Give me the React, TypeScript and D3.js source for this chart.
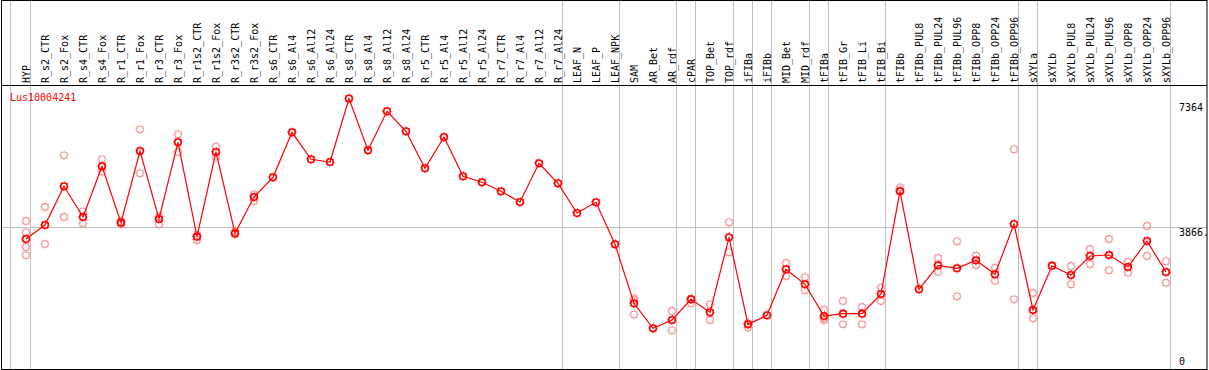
import { useEffect, useRef } from 'react'
import * as d3 from 'd3'

const seriesName = 'Lus10004241'

const categories = [
  'HYP', 'R_s2_CTR', 'R_s2_Fox', 'R_s4_CTR', 'R_s4_Fox', 'R_r1_CTR', 'R_r1_Fox', 'R_r3_CTR', 'R_r3_Fox',
  'R_r1s2_CTR', 'R_r1s2_Fox', 'R_r3s2_CTR', 'R_r3s2_Fox', 'R_s6_CTR', 'R_s6_Al4', 'R_s6_Al12', 'R_s6_Al24',
  'R_s8_CTR', 'R_s8_Al4', 'R_s8_Al12', 'R_s8_Al24', 'R_r5_CTR', 'R_r5_Al4', 'R_r5_Al12', 'R_r5_Al24',
  'R_r7_CTR', 'R_r7_Al4', 'R_r7_Al12', 'R_r7_Al24', 'LEAF_N', 'LEAF_P', 'LEAF_NPK', 'SAM', 'AR_Bet', 'AR_rdf',
  'cPAR', 'TOP_Bet', 'TOP_rdf', 'iFIBa', 'iFIBb', 'MID_Bet', 'MID_rdf', 'tFIBa', 'tFIB_Gr', 'tFIB_Li', 'tFIB_Bi',
  'tFIBb', 'tFIBb_PUL8', 'tFIBb_PUL24', 'tFIBb_PUL96', 'tFIBb_OPP8', 'tFIBb_OPP24', 'tFIBb_OPP96',
  'sXYLa', 'sXYLb', 'sXYLb_PUL8', 'sXYLb_PUL24', 'sXYLb_PUL96', 'sXYLb_OPP8', 'sXYLb_OPP24', 'sXYLb_OPP96',
]

// mean expression per sample
const means = [
  3540, 3921, 4975, 4139, 5519, 3984, 5936, 4084, 6173,
  3602, 5909, 3695, 4683, 5220, 6445, 5710, 5636,
  7364, 5955, 7017, 6472, 5465, 6317, 5247, 5084,
  4839, 4547, 5601, 5056, 4248, 4539, 3395, 1789, 1108, 1334,
  1898, 1544, 3586, 1217, 1462, 2715, 2306, 1443, 1506, 1506, 2042,
  4839, 2170, 2824, 2742, 2960, 2579, 3948,
  1607, 2813, 2560, 3077, 3104, 2777, 3485, 2641,
]

// individual replicates
const replicates = [
  [4030, 3722, 3322, 3096], [4411, 3404], [5819, 4139], [4294, 3967], [5710, 5375], [4030, 3948], [6527, 5329], [4147, 3940], [6390, 5908],
  [3649, 3513], [6053, 5780], [3749, 3668], [4757, 4575], [], [], [], [],
  [], [], [], [], [], [], [], [],
  [], [], [], [], [], [], [], [1925, 1879, 1489], [], [1579, 1054],
  [1914, 1789], [1762, 1334], [3995, 3178], [1244, 1135], [], [2886, 2532], [2497, 2143], [1615, 1389, 1334], [1852, 1217], [1688, 1217], [2214, 1852],
  [4948, 4866], [], [3022, 2649], [3477, 1980], [3085, 2832], [2758, 2404], [5982, 1898],
  [2069, 1380], [], [2805, 2306], [3268, 2859], [3540, 2688], [2922, 2622], [3894, 3077], [2932, 2350],
]

// a separator is drawn after these samples
const groupEnds = [
  'HYP', 'R_r7_Al24', 'LEAF_NPK', 'AR_rdf', 'cPAR', 'TOP_rdf', 'iFIBa', 'iFIBb',
  'MID_rdf', 'tFIBa', 'tFIB_Bi', 'tFIBb_OPP96', 'sXYLa', 'sXYLb_OPP96',
]

const yMax = 7733
const yTicks = [7364, 3866.5, 0]
const yTickLabels = ['7364', '3866.', '0']

const FONT = '"DejaVu Sans Mono", monospace'

export default function App() {
  const svgRef = useRef<SVGSVGElement>(null)

  useEffect(() => {
    if (!svgRef.current) return
    const svg = d3.select(svgRef.current)
    svg.selectAll('*').remove()

    const width = 1209
    const plotTop = 85
    const plotBottom = 369
    const step = 19

    const x = d3
      .scaleBand()
      .domain(categories)
      .range([11, 11 + step * categories.length])
      .padding(0)
    const px = (c: string) => (x(c) || 0) + 15

    const y = d3.scaleLinear().domain([0, yMax]).range([plotBottom, plotTop])

    svg.append('rect').attr('width', width).attr('height', 370).attr('fill', '#fff')

    // grid
    svg
      .append('line')
      .attr('x1', 1).attr('x2', width - 2)
      .attr('y1', Math.round(y(yTicks[1])) + 0.5).attr('y2', Math.round(y(yTicks[1])) + 0.5)
      .attr('stroke', '#c0c0c0')

    const seps = [(x(categories[0]) || 0) - 0.5, ...groupEnds.map((c) => (x(c) || 0) + x.bandwidth() + 0.5)]
    svg
      .selectAll('.sep')
      .data(seps)
      .enter()
      .append('line')
      .attr('x1', (d) => d).attr('x2', (d) => d)
      .attr('y1', 0).attr('y2', plotBottom)
      .attr('stroke', '#c0c0c0')

    svg
      .append('line')
      .attr('x1', 1).attr('x2', width - 2)
      .attr('y1', plotTop + 0.5).attr('y2', plotTop + 0.5)
      .attr('stroke', '#000')

    svg
      .append('rect')
      .attr('x', 1.5).attr('y', 0.5)
      .attr('width', width - 3.5).attr('height', plotBottom)
      .attr('fill', 'none')
      .attr('stroke', '#000')

    // column labels
    svg
      .selectAll('.lab')
      .data(categories)
      .enter()
      .append('text')
      .attr('transform', (d) => `translate(${px(d) + 3.5},83) rotate(-90)`)
      .attr('font-family', FONT)
      .attr('font-size', '10px')
      .attr('fill', '#000')
      .text((d) => d)

    // y labels
    const dys = [12.5, 9, -4]
    svg
      .selectAll('.ytick')
      .data(yTicks)
      .enter()
      .append('text')
      .attr('x', 1179)
      .attr('y', (d, i) => y(d) + dys[i])
      .attr('font-family', FONT)
      .attr('font-size', '10px')
      .attr('fill', '#000')
      .text((d, i) => yTickLabels[i])

    svg
      .append('text')
      .attr('x', 10)
      .attr('y', 101)
      .attr('font-family', FONT)
      .attr('font-size', '10px')
      .attr('fill', '#ff0000')
      .text(seriesName)

    const marker = (g: d3.Selection<SVGGElement, unknown, null, undefined>, cx: number, cy: number, color: string, sw: number) => {
      g.append('circle').attr('cx', cx).attr('cy', cy).attr('r', 3.3)
        .attr('fill', 'none').attr('stroke', color).attr('stroke-width', sw)
      g.append('circle').attr('cx', cx).attr('cy', cy).attr('r', 4.4)
        .attr('fill', 'none').attr('stroke', color).attr('stroke-width', 1)
        .attr('stroke-dasharray', `1 ${(2 * Math.PI * 4.4) / 8 - 1}`)
        .attr('stroke-dashoffset', 0.5)
    }

    const repG = svg.append('g')
    categories.forEach((c, i) => {
      replicates[i].forEach((v) => marker(repG, px(c), y(v), '#f29a9a', 1.2))
    })

    const line = d3
      .line<number>()
      .x((d, i) => px(categories[i]))
      .y((d) => y(d))
    svg
      .append('path')
      .attr('d', line(means) || '')
      .attr('fill', 'none')
      .attr('stroke', '#ff0000')
      .attr('stroke-width', 1.2)

    const meanG = svg.append('g')
    categories.forEach((c, i) => marker(meanG, px(c), y(means[i]), '#ff0000', 1.6))
  }, [])

  return (
    <svg
      ref={svgRef}
      width={1209}
      height={370}
      style={{ position: 'absolute', left: 0, top: 0, display: 'block' }}
    />
  )
}
